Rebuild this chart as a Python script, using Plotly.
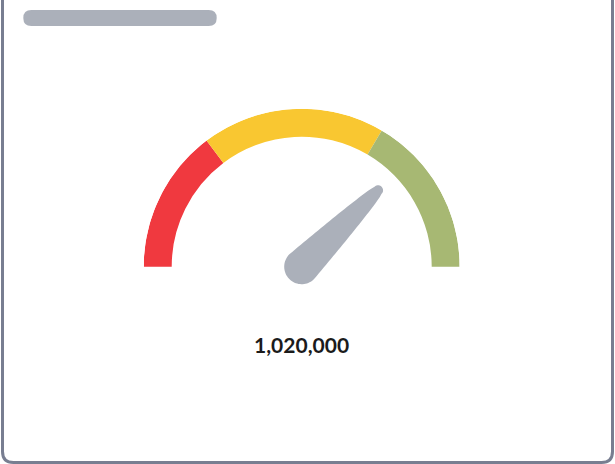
import numpy as np
import plotly.graph_objects as go

# ---- data ----
gauge_min = 0
gauge_max = 1360000
band_edges = [0, 400000, 910000, 1360000]
band_colors = ["#f0393f", "#f9c731", "#a7b873"]
value = 1020000

W, H = 615, 464
CX, CY, R_OUT = 301.7, 266.7, 158.0
BAND_W = 28.0
NEEDLE_LEN, BASE_R, TIP_HALF = 113.0, 17.5, 5.0


def to_deg(v):
    return (v - gauge_min) / (gauge_max - gauge_min) * 180.0


def px(x):
    return x / W


def py(y):
    return 1 - y / H


def rounded_rect(x0, y0, x1, y1, r):
    return (f"M {px(x0 + r)},{py(y0)} L {px(x1 - r)},{py(y0)} "
            f"Q {px(x1)},{py(y0)} {px(x1)},{py(y0 + r)} "
            f"L {px(x1)},{py(y1 - r)} Q {px(x1)},{py(y1)} {px(x1 - r)},{py(y1)} "
            f"L {px(x0 + r)},{py(y1)} Q {px(x0)},{py(y1)} {px(x0)},{py(y1 - r)} "
            f"L {px(x0)},{py(y0 + r)} Q {px(x0)},{py(y0)} {px(x0 + r)},{py(y0)} Z")


fig = go.Figure()

# bands
starts = [to_deg(v) for v in band_edges[:-1]]
ends = [to_deg(v) for v in band_edges[1:]]
fig.add_trace(go.Barpolar(
    theta=[(a + b) / 2 for a, b in zip(starts, ends)],
    width=[b - a for a, b in zip(starts, ends)],
    base=[R_OUT - BAND_W] * 3,
    r=[BAND_W] * 3,
    marker=dict(color=band_colors, line=dict(width=0)),
    hoverinfo="skip",
))

# needle (teardrop with convex sides, rounded tip, round base at the pivot)
th = to_deg(value)
tip_c = NEEDLE_LEN - TIP_HALF
phi = np.radians(th)
ux, uy = np.cos(phi), np.sin(phi)
vx, vy = -uy, ux


def pt(s, w):
    return s * ux + w * vx, s * uy + w * vy


ts = np.linspace(0, 1, 30)
side_s = ts * tip_c
side_w = TIP_HALF + (BASE_R - TIP_HALF) * (1 - ts) ** 0.75
pts = []
# right side (negative w) from base to tip
for s, w in zip(side_s, side_w):
    pts.append(pt(s, -w))
# tip semicircle
for a in np.linspace(-90, 90, 15):
    ar = np.radians(a)
    pts.append(pt(tip_c + TIP_HALF * np.cos(ar), TIP_HALF * np.sin(ar)))
# left side from tip to base
for s, w in zip(side_s[::-1], side_w[::-1]):
    pts.append(pt(s, w))
# base semicircle behind the pivot
for a in np.linspace(90, 270, 40):
    ar = np.radians(a)
    pts.append(pt(BASE_R * np.cos(ar), BASE_R * np.sin(ar)))
pts.append(pts[0])
xs = np.array([p[0] for p in pts])
ys = np.array([p[1] for p in pts])
n_r = list(np.hypot(xs, ys))
n_theta = list(np.degrees(np.arctan2(ys, xs)))

fig.add_trace(go.Scatterpolar(
    theta=n_theta, r=n_r, mode="lines", fill="toself",
    fillcolor="#abb0ba", line=dict(width=0, color="#abb0ba"),
    hoverinfo="skip",
))

fig.update_layout(
    width=W, height=H,
    margin=dict(l=0, r=0, t=0, b=0),
    paper_bgcolor="white",
    showlegend=False,
    polar=dict(
        domain=dict(x=[px(CX - R_OUT), px(CX + R_OUT)], y=[py(CY + R_OUT), py(CY - R_OUT)]),
        bgcolor="rgba(0,0,0,0)",
        hole=0,
        radialaxis=dict(visible=False, range=[0, R_OUT]),
        angularaxis=dict(visible=False, rotation=180, direction="clockwise",
                         showgrid=False, showline=False),
    ),
    shapes=[
        dict(type="path", xref="paper", yref="paper",
             path=rounded_rect(2.5, -30, 612.5, 462.5, 11),
             line=dict(color="#787e91", width=3), fillcolor="rgba(0,0,0,0)"),
        dict(type="path", xref="paper", yref="paper",
             path=rounded_rect(23.3, 10, 216.7, 26, 8),
             line=dict(width=0), fillcolor="#abb0ba"),
    ],
    annotations=[
        dict(x=px(301), y=py(344.5), xref="paper", yref="paper",
             text=f"<b>{value:,}</b>", showarrow=False,
             font=dict(family="Lato", size=21, color="#1b1b1b"),
             xanchor="center", yanchor="middle"),
    ],
)

fig.write_html("out.html", config={"displayModeBar": False},
               post_script="document.body.style.margin='0';document.body.style.overflow='hidden';")
